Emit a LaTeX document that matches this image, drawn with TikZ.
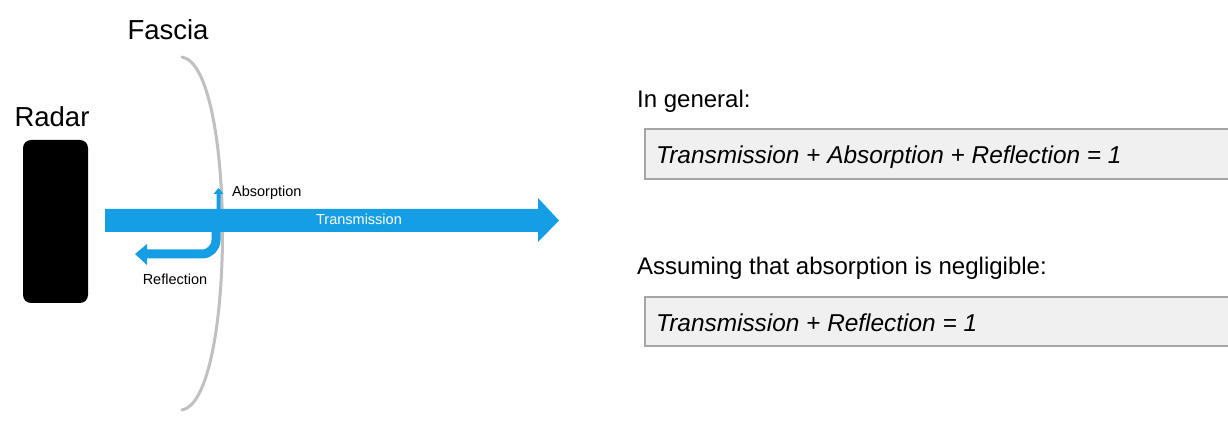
\documentclass[tikz,border=0pt]{standalone}
\usepackage{fontspec}
\setmainfont{Liberation Sans}
\definecolor{rblue}{RGB}{22,158,228}
\definecolor{fgray}{RGB}{192,192,192}
\definecolor{boxfill}{RGB}{240,240,240}
\definecolor{boxline}{RGB}{165,165,165}
\begin{document}
\begin{tikzpicture}[x=1pt,y=-1pt,
  bigtext/.style={font=\fontsize{24}{28}\selectfont, inner sep=0pt, anchor=base west},
  eqtext/.style={font=\fontsize{24.4}{28}\selectfont\itshape, inner sep=0pt, anchor=base west},
  title/.style={font=\fontsize{27.5}{32}\selectfont, inner sep=0pt, anchor=base},
  small/.style={font=\fontsize{14.5}{17}\selectfont, inner sep=0pt, anchor=base},
  eqbox/.style={fill=boxfill, draw=boxline, line width=1.5pt},
  beam/.style={fill=rblue, draw=none}]
\useasboundingbox (0,0) rectangle (1228,427);
\fill[white] (0,0) rectangle (1228,427);

% labels
\node[title] (fascia) at (168,40) {Fascia};
\node[title] (radarlbl) at (52,127) {Radar};

% radar
\fill[black, rounded corners=8pt] (23,140) rectangle (88,303);
\coordinate (radar) at (88,221);

% fascia curve
\coordinate (ftop) at (182,57);
\coordinate (fbot) at (182,410);
\draw[fgray, line width=3pt, line cap=round] (ftop) .. controls (236,66) and (236,400) .. (fbot);

% transmission arrow
\fill[beam] (105,209) -- (538,209) -- (538,198) -- (559,220.5) -- (538,242) -- (538,232) -- (105,232) -- cycle;
\node[small, text=white] (trans) at (359,225) {Transmission};

% absorption arrow
\fill[beam] (216.5,210) -- (216.5,194) -- (213.5,194) -- (218.5,188) -- (223.5,194) -- (220.5,194) -- (220.5,210) -- cycle;
\node[small, anchor=base west] (absorb) at (232,197) {Absorption};

% reflection arrow
\draw[rblue, line width=9pt] (216,228) -- (216,240) arc (0:90:14) -- (146,254);
\fill[beam] (147,244) -- (135,254) -- (147,265) -- cycle;
\node[small] (reflect) at (175,285) {Reflection};

% right side
\node[bigtext] (gen) at (637,108) {In general:};
\draw[eqbox] (645,129) rectangle (1240,179);
\node[eqtext] (eq1) at (656,164) {Transmission + Absorption + Reflection = 1};
\node[bigtext] (assume) at (637,275) {Assuming that absorption is negligible:};
\draw[eqbox] (645,297) rectangle (1240,346);
\node[eqtext] (eq2) at (656,332) {Transmission + Reflection = 1};
\end{tikzpicture}
\end{document}
